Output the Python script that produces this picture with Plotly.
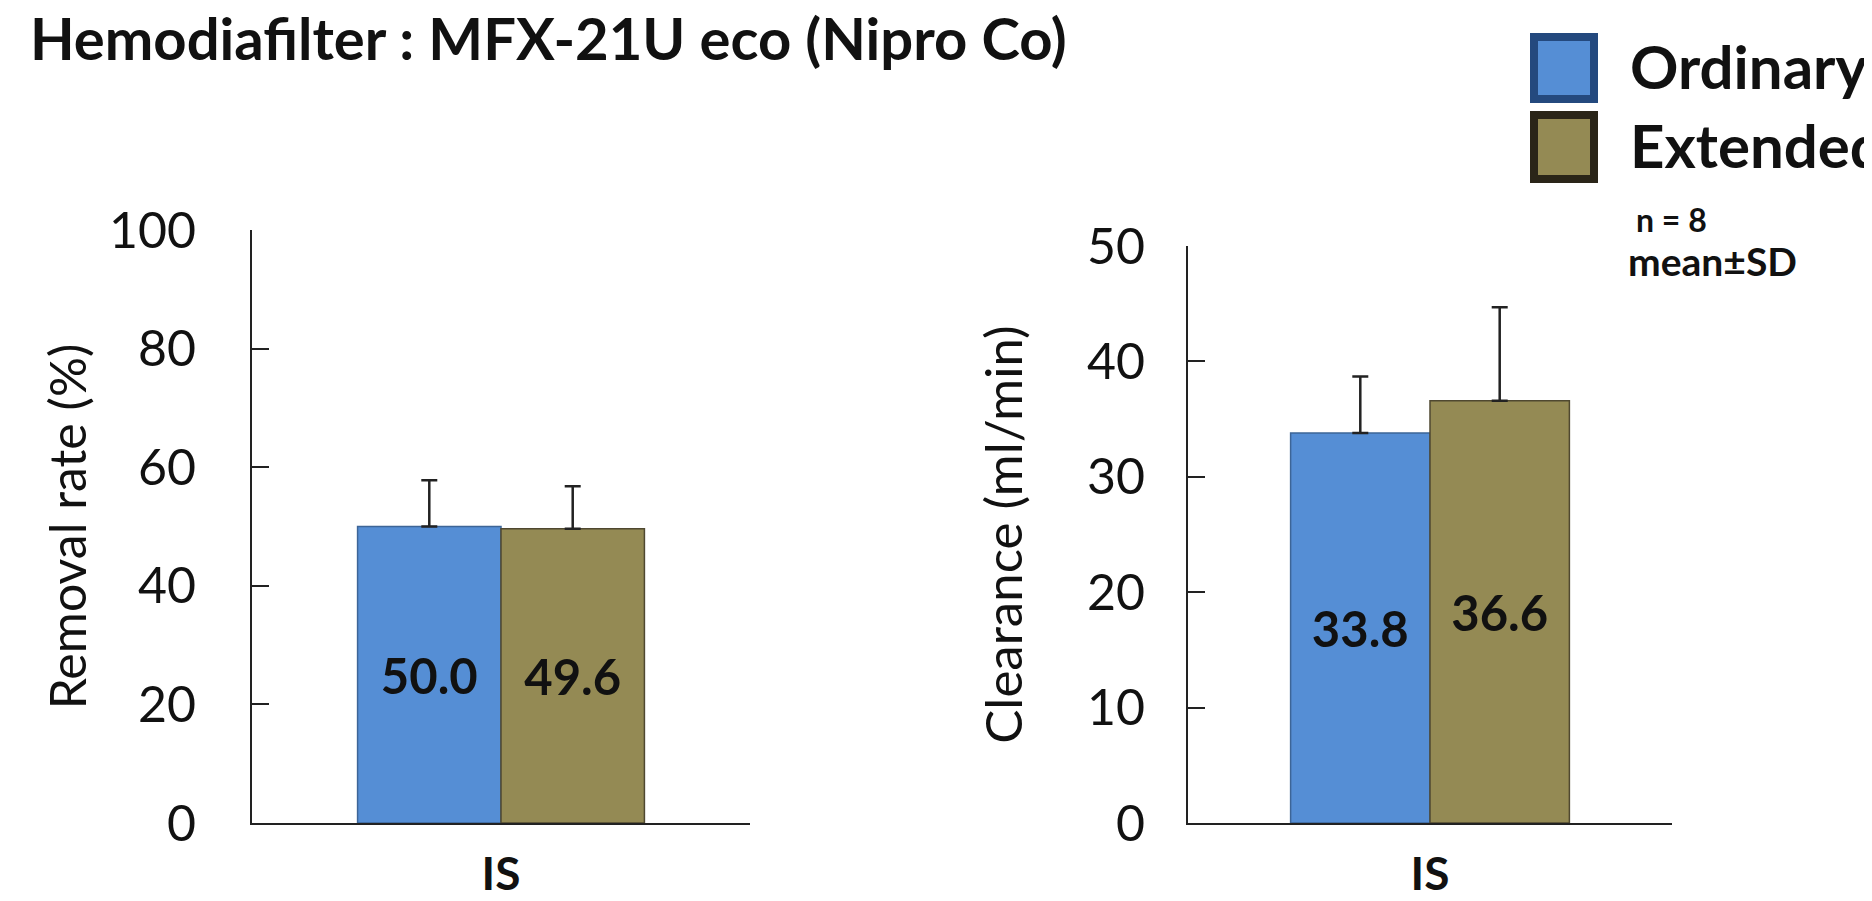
import plotly.graph_objects as go

# page body has an 8px margin: the figure is sized/offset to fill the window
OFF = 8
W, H = 1872 - OFF, 901 - OFF

# ---------------- data ----------------
categories = ["IS"]
series_names = ["Ordinary", "Extended"]

removal_ordinary = [50.0]
removal_ordinary_sd = [7.8]
removal_extended = [49.6]
removal_extended_sd = [7.2]

clearance_ordinary = [33.8]
clearance_ordinary_sd = [4.9]
clearance_extended = [36.6]
clearance_extended_sd = [8.1]

removal_ticks = [0, 20, 40, 60, 80, 100]
clearance_ticks = [0, 10, 20, 30, 40, 50]

title_text = "Hemodiafilter : MFX-21U eco (Nipro Co)"
n_text = "n = 8"
stat_text = "mean±SD"

# ---------------- style ----------------
FONT = "Lato"
BLUE = "#558ED5"
OLIVE = "#948A54"
BLUE_EDGE = "#3D6597"
OLIVE_EDGE = "#4F4830"
LINE = "#222222"


def px(x):
    return (x - OFF) / W


def py(y):
    return 1 - (y - OFF) / H


fig = go.Figure()


def add_bars(xa, ya, ord_vals, ord_sd, ext_vals, ext_sd):
    for name, vals, sd, color, edge in [
        (series_names[0], ord_vals, ord_sd, BLUE, BLUE_EDGE),
        (series_names[1], ext_vals, ext_sd, OLIVE, OLIVE_EDGE),
    ]:
        fig.add_trace(go.Bar(
            x=categories, y=vals, name=name, xaxis=xa, yaxis=ya,
            marker=dict(color=color, line=dict(color=edge, width=1.5)),
            error_y=dict(type="data", symmetric=False, array=sd,
                         arrayminus=[0] * len(sd), color=LINE,
                         thickness=2.5, width=8),
            texttemplate="<b>%{y:.1f}</b>", textposition="inside",
            insidetextanchor="middle", textangle=0,
            textfont=dict(family=FONT, size=49, color="#111111"),
            constraintext="none", showlegend=False,
        ))


add_bars("x", "y", removal_ordinary, removal_ordinary_sd,
         removal_extended, removal_extended_sd)
add_bars("x2", "y2", clearance_ordinary, clearance_ordinary_sd,
         clearance_extended, clearance_extended_sd)

xcommon = dict(type="category", showline=True, linecolor=LINE, linewidth=2,
               ticks="", showgrid=False, zeroline=False, automargin=False,
               tickfont=dict(family=FONT, size=46, color="#111111", weight="bold"),
               ticklabelstandoff=10)
ycommon = dict(showline=True, linecolor=LINE, linewidth=2, ticks="inside",
               ticklen=17, tickwidth=2, tickcolor=LINE, showgrid=False,
               zeroline=False, automargin=False)

fig.update_layout(
    width=W, height=H,
    template="none",
    paper_bgcolor="white", plot_bgcolor="white",
    margin=dict(l=0, r=0, t=0, b=0),
    barmode="group", bargap=0.424, bargroupgap=0,
    font=dict(family=FONT, color="#111111"),
    title=dict(text="<b>" + title_text + "</b>", x=px(30), xanchor="left",
               xref="paper", y=py(40), yanchor="middle", yref="paper",
               font=dict(family=FONT, size=58, color="#111111")),
    xaxis=dict(domain=[px(252), px(750)], anchor="y", **xcommon),
    yaxis=dict(domain=[py(823), py(230)], anchor="x", range=[0, 100],
               tickvals=removal_ticks,
               tickfont=dict(family=FONT, size=50, color="#111111"),
               ticklabelstandoff=44,
               title=dict(text="Removal rate (%)", standoff=6,
                          font=dict(family=FONT, size=50, color="#111111")),
               **ycommon),
    xaxis2=dict(domain=[px(1188), px(1672)], anchor="y2", **xcommon),
    yaxis2=dict(domain=[py(823), py(246)], anchor="x2", range=[0, 50],
                tickvals=clearance_ticks,
                tickfont=dict(family=FONT, size=50, color="#111111"),
                ticklabelstandoff=31,
                title=dict(text="Clearance (ml/min)", standoff=48,
                           font=dict(family=FONT, size=51, color="#111111")),
                **ycommon),
)

# legend drawn as boxes + labels
legend_items = [
    (series_names[0], BLUE, "#24497E", 37, 99),
    (series_names[1], OLIVE, "#2A2518", 115, 179),
]
for name, fill, edge, y0, y1 in legend_items:
    fig.add_shape(type="rect", xref="paper", yref="paper",
                  x0=px(1534), x1=px(1594), y0=py(y1), y1=py(y0),
                  fillcolor=fill, line=dict(color=edge, width=8))
    fig.add_annotation(text="<b>" + name + "</b>", xref="paper", yref="paper",
                       x=px(1628), y=py((y0 + y1) / 2 - 2), xanchor="left",
                       yanchor="middle", showarrow=False,
                       font=dict(family=FONT, size=60, color="#111111"))

fig.add_annotation(text="<b>" + n_text + "</b>", xref="paper", yref="paper",
                   x=px(1634), y=py(219), xanchor="left", yanchor="middle",
                   showarrow=False, font=dict(family=FONT, size=32, color="#111111"))
fig.add_annotation(text="<b>" + stat_text + "</b>", xref="paper", yref="paper",
                   x=px(1626), y=py(261), xanchor="left", yanchor="middle",
                   showarrow=False, font=dict(family=FONT, size=39, color="#111111"))

fig.write_html("out.html")
